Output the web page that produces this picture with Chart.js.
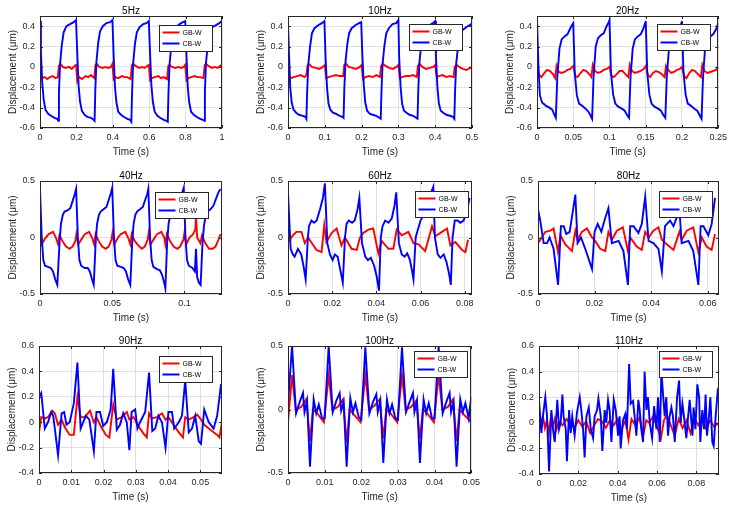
<!DOCTYPE html>
<html>
<head>
<meta charset="utf-8">
<title>Displacement of GB-W and CB-W</title>
<script src="https://cdn.jsdelivr.net/npm/chart.js@4.4.1/dist/chart.umd.min.js"></script>
<style>
  html, body { margin: 0; padding: 0; background: #fff; }
  #wrap { position: relative; width: 732px; height: 505px; overflow: hidden; background: #fff; }
  #wrap canvas { position: absolute; }
</style>
</head>
<body>
<div id="wrap"></div>
<script>
// ---- data ----
const titles = ['5Hz', '10Hz', '20Hz', '40Hz', '60Hz', '80Hz', '90Hz', '100Hz', '110Hz'];
const seriesNames = ['GB-W', 'CB-W'];

// 5Hz
const t05Gb = [0,0.006,0.012,0.025,0.04,0.055,0.07,0.085,0.098,0.104,0.112,0.125,0.14,0.16,0.175,0.19,0.198,
  0.205,0.215,0.23,0.25,0.265,0.28,0.298,0.305,0.312,0.325,0.345,0.36,0.375,0.39,0.398,
  0.405,0.415,0.43,0.45,0.465,0.48,0.498,0.505,0.512,0.525,0.545,0.56,0.575,0.59,0.598,
  0.605,0.615,0.63,0.65,0.665,0.68,0.698,0.705,0.712,0.725,0.745,0.76,0.775,0.79,0.798,
  0.805,0.815,0.83,0.85,0.865,0.88,0.898,0.905,0.912,0.925,0.945,0.96,0.975,0.99,1];
const d05Gb = [0,-0.08,-0.11,-0.1,-0.12,-0.1,-0.09,-0.11,-0.1,0.01,0.03,0,-0.01,0,-0.02,0.01,0.02,
  -0.14,-0.1,-0.12,-0.09,-0.1,-0.08,-0.11,0.02,0.03,0,-0.01,0,-0.01,0,0.03,
  -0.12,-0.1,-0.11,-0.09,-0.1,-0.1,-0.12,0.02,0.03,0.01,-0.01,0,-0.01,0.01,0.02,
  -0.13,-0.11,-0.1,-0.09,-0.11,-0.1,-0.12,0.01,0.02,0,-0.01,0,-0.01,0,0.02,
  -0.13,-0.11,-0.1,-0.09,-0.1,-0.1,-0.11,0.02,0.03,0.01,-0.01,0,-0.01,0.01,0.02];
const t05Cb = [0,0.005,0.012,0.02,0.03,0.045,0.06,0.08,0.095,0.1,0.104,0.11,0.12,0.13,0.145,0.165,0.185,0.198,
  0.205,0.212,0.22,0.23,0.245,0.26,0.28,0.295,0.3,0.304,0.31,0.32,0.33,0.345,0.365,0.385,0.398,
  0.405,0.412,0.42,0.43,0.445,0.46,0.48,0.495,0.502,0.506,0.512,0.522,0.532,0.547,0.567,0.585,0.598,
  0.605,0.612,0.62,0.63,0.645,0.66,0.68,0.695,0.702,0.706,0.712,0.722,0.732,0.747,0.767,0.785,0.798,
  0.805,0.812,0.82,0.83,0.845,0.86,0.88,0.895,0.902,0.906,0.912,0.922,0.932,0.947,0.967,0.985,1];
const d05Cb = [0.45,0.15,-0.15,-0.32,-0.42,-0.46,-0.48,-0.5,-0.51,-0.53,-0.25,0.02,0.22,0.34,0.4,0.42,0.44,0.46,
  0.12,-0.18,-0.34,-0.43,-0.47,-0.49,-0.5,-0.52,-0.53,-0.22,0.05,0.24,0.35,0.4,0.43,0.44,0.46,
  0.1,-0.2,-0.35,-0.44,-0.47,-0.49,-0.51,-0.52,-0.54,-0.24,0.04,0.23,0.34,0.39,0.42,0.43,0.45,
  0.12,-0.18,-0.34,-0.44,-0.48,-0.5,-0.52,-0.53,-0.54,-0.25,0.03,0.22,0.33,0.39,0.42,0.44,0.45,
  0.1,-0.2,-0.35,-0.44,-0.47,-0.49,-0.51,-0.52,-0.53,-0.24,0.04,0.22,0.34,0.39,0.41,0.43,0.45];

// 10Hz
const t10Gb = [0,0.004,0.008,0.015,0.025,0.035,0.045,0.05,0.053,0.057,0.065,0.075,0.085,0.095,0.1,
  0.104,0.11,0.12,0.13,0.14,0.15,0.153,0.158,0.165,0.175,0.185,0.195,0.2,
  0.204,0.21,0.22,0.23,0.24,0.25,0.253,0.258,0.265,0.275,0.285,0.295,0.3,
  0.304,0.31,0.32,0.33,0.34,0.35,0.353,0.358,0.365,0.375,0.385,0.395,0.4,
  0.404,0.41,0.42,0.43,0.44,0.45,0.453,0.458,0.465,0.475,0.485,0.495,0.5];
const d10Gb = [0.02,-0.09,-0.11,-0.1,-0.09,-0.08,-0.1,-0.08,0.01,0.03,0,-0.01,-0.02,0,0.02,
  -0.11,-0.1,-0.09,-0.08,-0.09,-0.09,0.02,0.03,0,-0.01,-0.02,0,0.02,
  -0.12,-0.1,-0.09,-0.1,-0.08,-0.1,0.01,0.03,0.01,-0.01,-0.02,0,0.02,
  -0.11,-0.1,-0.09,-0.09,-0.08,-0.1,0.01,0.03,0,-0.02,-0.01,0,0.02,
  -0.1,-0.09,-0.08,-0.1,-0.09,-0.1,0,0.02,0,-0.02,-0.03,-0.01,0];
const t10Cb = [0,0.003,0.006,0.01,0.015,0.022,0.03,0.04,0.047,0.05,0.052,0.055,0.06,0.065,0.072,0.082,0.092,0.099,
  0.102,0.106,0.11,0.115,0.122,0.13,0.14,0.148,0.151,0.153,0.156,0.161,0.166,0.173,0.183,0.193,0.199,
  0.202,0.206,0.21,0.215,0.222,0.23,0.24,0.248,0.252,0.254,0.257,0.262,0.267,0.274,0.284,0.294,0.3,
  0.302,0.306,0.31,0.315,0.322,0.33,0.34,0.348,0.352,0.354,0.357,0.362,0.367,0.374,0.384,0.394,0.4,
  0.402,0.406,0.41,0.415,0.422,0.43,0.44,0.448,0.452,0.454,0.457,0.462,0.467,0.474,0.484,0.494,0.5];
const d10Cb = [0.43,0.1,-0.2,-0.35,-0.42,-0.45,-0.47,-0.48,-0.49,-0.51,-0.25,0.02,0.2,0.33,0.38,0.41,0.43,0.45,
  0.1,-0.2,-0.36,-0.42,-0.45,-0.46,-0.48,-0.49,-0.5,-0.22,0.04,0.22,0.33,0.38,0.41,0.43,0.44,
  0.12,-0.18,-0.35,-0.43,-0.46,-0.47,-0.48,-0.5,-0.51,-0.24,0.03,0.21,0.33,0.38,0.42,0.43,0.46,
  0.1,-0.2,-0.36,-0.43,-0.45,-0.47,-0.48,-0.5,-0.51,-0.23,0.04,0.22,0.33,0.38,0.41,0.43,0.45,
  0.1,-0.2,-0.36,-0.43,-0.45,-0.47,-0.48,-0.49,-0.51,-0.24,0.03,0.2,0.3,0.36,0.39,0.41,0.43];

// 20Hz
const t20Gb = [0,0.003,0.006,0.01,0.014,0.018,0.022,0.025,0.027,0.03,0.034,0.038,0.042,0.046,0.05,
  0.053,0.056,0.06,0.064,0.068,0.072,0.075,0.077,0.08,0.084,0.088,0.092,0.096,0.1,
  0.103,0.106,0.11,0.114,0.118,0.122,0.126,0.128,0.131,0.135,0.139,0.143,0.147,0.15,
  0.153,0.156,0.16,0.164,0.168,0.172,0.176,0.178,0.181,0.185,0.189,0.193,0.197,0.2,
  0.203,0.206,0.21,0.214,0.218,0.222,0.226,0.228,0.231,0.235,0.239,0.243,0.247,0.25];
const d20Gb = [0.03,-0.08,-0.1,-0.06,-0.03,-0.04,-0.07,-0.11,0.01,-0.05,-0.06,-0.05,-0.03,-0.02,0.01,
  -0.09,-0.1,-0.06,-0.03,-0.04,-0.07,-0.1,0.02,-0.04,-0.06,-0.05,-0.03,-0.02,0,
  -0.09,-0.1,-0.07,-0.04,-0.04,-0.07,-0.1,0.02,-0.04,-0.06,-0.05,-0.04,-0.02,0.01,
  -0.08,-0.1,-0.06,-0.04,-0.05,-0.07,-0.1,0.01,-0.03,-0.06,-0.05,-0.03,-0.02,0,
  -0.09,-0.11,-0.06,-0.03,-0.04,-0.07,-0.1,0.02,-0.04,-0.06,-0.05,-0.04,-0.03,0];
const t20Cb = [0,0.002,0.004,0.007,0.012,0.017,0.021,0.024,0.026,0.028,0.031,0.034,0.038,0.042,0.046,0.049,0.05,
  0.052,0.055,0.058,0.062,0.067,0.071,0.074,0.076,0.078,0.081,0.084,0.088,0.092,0.096,0.099,0.1,
  0.102,0.105,0.108,0.112,0.117,0.121,0.124,0.127,0.129,0.132,0.135,0.139,0.143,0.147,0.149,0.15,
  0.152,0.155,0.158,0.162,0.167,0.171,0.174,0.177,0.179,0.182,0.185,0.189,0.193,0.197,0.199,0.2,
  0.202,0.205,0.208,0.212,0.217,0.221,0.224,0.227,0.229,0.232,0.235,0.239,0.243,0.247,0.25];
const d20Cb = [0.47,0,-0.28,-0.35,-0.38,-0.4,-0.42,-0.47,-0.5,-0.1,0.18,0.27,0.3,0.32,0.38,0.42,0.43,
  -0.05,-0.28,-0.36,-0.38,-0.41,-0.44,-0.48,-0.51,-0.1,0.2,0.28,0.31,0.33,0.4,0.44,0.46,
  -0.05,-0.27,-0.36,-0.39,-0.41,-0.43,-0.47,-0.5,-0.1,0.18,0.27,0.3,0.32,0.38,0.43,0.45,
  -0.05,-0.27,-0.36,-0.39,-0.41,-0.43,-0.47,-0.5,-0.1,0.18,0.27,0.3,0.33,0.38,0.43,0.45,
  -0.05,-0.27,-0.36,-0.38,-0.41,-0.43,-0.47,-0.51,-0.1,0.2,0.28,0.3,0.32,0.37,0.43];

// 40Hz
const t40Gb = [0,0.0012,0.0035,0.006,0.009,0.011,0.0125,0.0135,0.0155,0.018,0.0205,0.0225,0.0245,0.0252,
  0.0265,0.029,0.031,0.034,0.036,0.0375,0.0385,0.0405,0.043,0.0455,0.0475,0.0495,0.0502,
  0.0515,0.054,0.056,0.059,0.061,0.0625,0.0635,0.0655,0.068,0.0705,0.0725,0.0745,0.0752,
  0.0765,0.079,0.081,0.084,0.086,0.0868,0.0878,0.09,0.0925,0.095,0.097,0.0993,0.1,
  0.1012,0.1035,0.106,0.1075,0.108,0.1088,0.111,0.1122,0.114,0.117,0.1195,0.1215,0.1235,0.125];
const d40Gb = [0.03,-0.06,-0.01,0.03,0.05,0,-0.06,0.02,-0.03,-0.08,-0.1,-0.08,-0.03,0.03,
  -0.06,-0.01,0.03,0.05,0,-0.06,0.03,-0.03,-0.08,-0.1,-0.08,-0.02,0.04,
  -0.06,0,0.03,0.05,0,-0.06,0.03,-0.03,-0.07,-0.1,-0.08,-0.02,0.04,
  -0.06,-0.01,0.03,0.05,0,-0.06,0.03,-0.03,-0.08,-0.1,-0.08,-0.02,0.04,
  -0.06,0,0.03,0.07,0.18,0,-0.05,0.02,-0.04,-0.1,-0.1,-0.08,-0.02,0.03];
const t40Cb = [0,0.0012,0.0023,0.0035,0.0055,0.0075,0.009,0.0105,0.012,0.0135,0.0145,0.0158,0.017,0.019,0.021,0.0225,0.024,0.025,
  0.0262,0.0273,0.0285,0.031,0.033,0.0345,0.036,0.0372,0.0385,0.0395,0.0408,0.042,0.044,0.046,0.0475,0.049,0.05,
  0.0512,0.0523,0.0535,0.056,0.058,0.0595,0.061,0.0625,0.0638,0.0648,0.066,0.0672,0.0692,0.0712,0.0727,0.0742,0.075,
  0.0762,0.0773,0.0785,0.081,0.083,0.0845,0.086,0.0868,0.088,0.089,0.0902,0.0915,0.0935,0.0955,0.097,0.0985,0.0995,
  0.1007,0.1018,0.103,0.1055,0.1072,0.108,0.1088,0.11,0.1112,0.1125,0.1135,0.1148,0.116,0.118,0.12,0.1215,0.1235,0.125];
const d40Cb = [0.43,0,-0.2,-0.25,-0.26,-0.27,-0.3,-0.37,-0.42,-0.05,0.12,0.2,0.23,0.24,0.26,0.32,0.38,0.43,
  0,-0.2,-0.25,-0.27,-0.27,-0.3,-0.37,-0.42,-0.05,0.12,0.2,0.23,0.25,0.27,0.33,0.39,0.44,
  0,-0.2,-0.25,-0.26,-0.27,-0.3,-0.37,-0.42,-0.05,0.12,0.2,0.23,0.25,0.27,0.33,0.38,0.43,
  0,-0.2,-0.26,-0.28,-0.29,-0.33,-0.4,-0.45,-0.05,0.12,0.2,0.23,0.25,0.28,0.34,0.4,0.44,
  0,-0.2,-0.25,-0.27,-0.3,-0.1,-0.35,-0.4,-0.42,-0.05,0.1,0.2,0.23,0.25,0.28,0.33,0.4,0.43];

// 60Hz
const t60Gb = [0,0.0008,0.0023,0.0038,0.0061,0.0076,0.0091,0.0129,0.0152,0.0164,0.0174,0.0197,0.022,0.0242,0.0258,
  0.0288,0.0311,0.0326,0.0341,0.0364,0.0386,0.0409,0.0424,0.0455,0.0477,0.0492,0.0515,0.0545,0.0568,0.0591,
  0.0621,0.0652,0.0667,0.0697,0.072,0.0735,0.0758,0.0788,0.0803,0.0815];
const d60Gb = [0.04,-0.02,0.02,0.05,0.05,-0.05,0,-0.11,-0.13,0.11,-0.04,0.04,0.08,-0.07,0,
  -0.1,-0.11,0,0.04,0.07,0.08,-0.14,-0.03,-0.1,-0.1,0.07,0.02,0.05,-0.05,-0.06,
  -0.12,0.1,0.01,0.05,0.08,-0.07,-0.04,-0.11,-0.13,-0.02];
const t60Cb = [0,0.0012,0.0022,0.003,0.0045,0.006,0.007,0.008,0.009,0.0095,0.0106,0.0118,0.013,0.0145,0.0158,0.0167,
  0.0178,0.019,0.0202,0.0212,0.0225,0.0235,0.0248,0.0258,0.0265,0.0275,0.029,0.0302,0.0315,0.0323,
  0.0335,0.035,0.0362,0.0375,0.039,0.0402,0.0412,0.042,0.0428,0.044,0.0455,0.047,0.0482,0.049,
  0.0502,0.0515,0.0528,0.054,0.0552,0.0562,0.0568,0.0578,0.0585,0.06,0.0615,0.0628,0.0658,
  0.0665,0.0678,0.069,0.0705,0.0718,0.073,0.0737,0.0745,0.0755,0.0768,0.078,0.0795,0.0812,0.0822];
const d60Cb = [0.4,-0.1,-0.15,-0.17,-0.1,-0.15,-0.25,-0.37,0,0.1,0.15,0.13,0.15,0.25,0.35,0.48,
  -0.05,-0.15,-0.2,-0.15,-0.17,-0.27,-0.4,0,0.12,0.15,0.13,0.15,0.25,0.35,
  -0.05,-0.17,-0.2,-0.18,-0.25,-0.35,-0.47,0,0.1,0.15,0.13,0.17,0.28,0.4,
  -0.05,-0.15,-0.17,-0.14,-0.2,-0.3,-0.37,0,0.05,0.15,0.2,0.3,0.45,
  0,-0.15,-0.18,-0.15,-0.22,-0.33,-0.42,0,0.15,0.15,0.13,0.15,0.25,0.35];

// 80Hz
const t80Gb = [0,0.0008,0.0026,0.0044,0.0055,0.0071,0.0079,0.0096,0.012,0.0132,0.014,0.0155,0.0173,0.0191,0.0202,
  0.022,0.0238,0.0249,0.0261,0.0279,0.03,0.0318,0.0326,0.0349,0.0367,0.0379,0.0391,0.0408,0.0426,0.0438,
  0.0455,0.0479,0.05,0.0508,0.0526,0.0549,0.0567,0.0579,0.0596,0.0614,0.0626];
const d80Gb = [-0.05,-0.02,0.05,0.06,0.08,-0.13,0.02,-0.06,-0.12,0.06,-0.02,0.05,0.08,0,-0.03,
  -0.1,-0.12,0.05,-0.02,0.06,0.09,-0.12,0,-0.08,-0.11,0.05,0,0.06,0.09,-0.02,
  -0.06,-0.11,0.05,-0.02,0.06,0.09,-0.13,0,-0.08,-0.11,0.03];
const t80Cb = [0,0.0008,0.002,0.0032,0.0041,0.0055,0.0071,0.0081,0.0091,0.01,0.0112,0.0132,0.014,0.0152,0.0167,
  0.0191,0.02,0.0211,0.0224,0.0235,0.0249,0.0261,0.0285,0.0302,0.0318,0.0326,0.0338,0.0355,0.0367,0.0379,
  0.0391,0.0408,0.0426,0.0438,0.0449,0.0467,0.0479,0.0491,0.05,0.0508,0.0532,0.0549,0.0567,0.0575,0.0585,
  0.0602,0.0614,0.0626];
const d80Cb = [0.25,0.15,-0.05,-0.05,0,-0.1,-0.42,0.1,0.1,0.03,0.05,0.38,-0.05,0,-0.1,
  -0.28,0.05,0.12,0.05,0.15,0.26,-0.05,-0.03,-0.12,-0.42,0.1,0.1,0.04,0.12,0.36,
  -0.03,-0.05,-0.1,-0.3,0.1,0.15,0.1,0.18,0.25,-0.05,-0.03,-0.12,-0.42,0.1,0.1,
  0.02,0.12,0.35];

// 90Hz
const t90Gb = [0,0.0007,0.0018,0.0028,0.0041,0.0049,0.0059,0.007,0.008,0.0095,0.0108,0.0119,0.0129,0.0142,0.0158,
  0.017,0.0178,0.0189,0.0207,0.0218,0.023,0.0241,0.0256,0.0272,0.028,0.0293,0.0305,0.0324,0.0334,0.0341,
  0.035,0.0365,0.0381,0.0392,0.0401,0.0417,0.0433,0.0446,0.0453,0.0464,0.0479,0.049,0.0502,0.0512,0.0531,
  0.0552,0.0559,0.0567];
const d90Gb = [-0.08,0.04,0.03,0.04,0.09,0.07,-0.02,0.02,-0.04,-0.1,-0.1,0.2,0.04,0.04,0.09,
  0,0.04,-0.02,-0.1,-0.12,0.14,0.02,0.04,0.08,0.02,0.04,-0.02,-0.09,-0.12,0.07,
  0.03,0.04,0.07,0.02,0.04,-0.02,-0.08,-0.12,0.04,0.02,0.04,0.06,0.02,-0.02,-0.06,
  -0.1,-0.12,0];
const t90Cb = [0,0.0007,0.0018,0.0028,0.0038,0.0044,0.0049,0.0059,0.007,0.0078,0.0085,0.0095,0.0108,0.0119,0.0129,
  0.0137,0.0145,0.0156,0.017,0.0178,0.0189,0.0199,0.021,0.0222,0.023,0.0241,0.0251,0.0261,0.0272,0.028,
  0.0287,0.0298,0.0305,0.0313,0.0329,0.0341,0.0351,0.036,0.037,0.0381,0.0392,0.0401,0.0412,0.0419,0.0433,
  0.0443,0.0453,0.0464,0.0474,0.0484,0.0495,0.0502,0.0512,0.0526,0.0541,0.0552,0.0564];
const d90Cb = [0.2,0.23,-0.05,0,0.08,0.05,-0.05,-0.26,0.07,0.08,-0.02,0,0.15,0.47,-0.05,
  0,0.05,0.02,-0.23,0.08,0.08,-0.03,0,0.1,0.42,-0.06,-0.02,0.07,0,-0.22,
  0.08,0.1,-0.05,0,0.08,0.39,-0.07,-0.05,0.05,0,-0.2,0.08,0.08,-0.05,0,
  0.05,0.33,-0.08,-0.05,0.05,-0.15,-0.17,0.1,0,-0.05,0.05,0.3];

// 100Hz
const t100Gb = [0,0.0011,0.0021,0.0036,0.005,0.006,0.0068,0.008,0.0098,
  0.0111,0.0121,0.0136,0.015,0.016,0.0168,0.018,0.0198,
  0.0211,0.0221,0.0236,0.025,0.026,0.0268,0.028,0.0298,
  0.0311,0.0321,0.0336,0.035,0.036,0.0368,0.038,0.0398,
  0.0411,0.0421,0.0436,0.045,0.046,0.0468,0.048,0.05];
const d100Gb = [-0.1,0.27,0,0.02,0.08,-0.25,0,-0.03,-0.1,
  0.27,0,0.02,0.08,-0.26,0,-0.04,-0.1,
  0.27,0,0.03,0.08,-0.23,0,-0.03,-0.1,
  0.27,0,0.02,0.07,-0.23,0,-0.03,-0.1,
  0.27,0,0.02,0.08,-0.25,0,-0.04,-0.1];
const t100Cb = [0,0.0011,0.0022,0.0032,0.0041,0.0045,0.0052,0.006,0.007,0.0077,0.0084,0.0093,0.01,
  0.0111,0.0122,0.0132,0.0141,0.0145,0.0152,0.016,0.017,0.0177,0.0184,0.0193,0.02,
  0.0211,0.0222,0.0232,0.0241,0.0245,0.0252,0.026,0.027,0.0277,0.0284,0.0293,0.03,
  0.0311,0.0322,0.0332,0.0341,0.0345,0.0352,0.036,0.037,0.0377,0.0384,0.0393,0.04,
  0.0411,0.0422,0.0432,0.0441,0.0445,0.0452,0.046,0.047,0.0477,0.0484,0.0493,0.05];
const d100Cb = [0.05,0.5,-0.03,0.06,0.13,-0.02,0.07,-0.45,0.08,-0.03,0.04,-0.07,-0.07,
  0.5,-0.02,0.07,0.13,-0.01,0.06,-0.45,0.09,-0.02,0.05,-0.06,-0.08,
  0.49,-0.03,0.06,0.12,-0.02,0.07,-0.42,0.08,-0.03,0.04,-0.07,-0.08,
  0.49,-0.02,0.06,0.13,-0.02,0.07,-0.42,0.08,-0.03,0.05,-0.07,-0.07,
  0.5,-0.03,0.06,0.13,-0.02,0.06,-0.45,0.08,-0.02,0.05,-0.07,0.1];

// 110Hz
const t110Gb = [0,0.001,0.002,0.003,0.004,0.005,0.006,0.007,0.008,0.009,0.01,
  0.012,0.014,0.016,0.018,0.02,0.022,0.024,0.026,0.028,0.03,0.032,0.034,0.036,0.038,0.04,0.042,0.044,
  0.0455,0.047,0.049,0.051,0.053,0.0545,0.056,0.058,0.06,0.062,0.0635,0.065,0.067,0.069,0.071,0.073,
  0.075,0.077,0.079,0.081,0.083,0.085,0.087,0.089,0.0915];
const d110Gb = [-0.05,0,0.05,-0.04,0.02,-0.08,0.04,-0.03,0.03,-0.05,0.01,
  -0.02,0.03,-0.01,-0.04,0.02,-0.03,0.01,-0.08,-0.02,0.03,0.01,-0.04,0.02,-0.02,0.03,-0.05,0.02,
  -0.13,0.03,-0.02,0.04,-0.1,0.02,0,0.05,-0.03,-0.12,0.02,0.06,-0.02,-0.1,0.03,-0.04,
  0.02,-0.08,0.03,-0.02,0.04,-0.05,0.02,-0.03,0];
const t110Cb = [0,0.0012,0.002,0.0032,0.0041,0.0051,0.0063,0.0071,0.008,0.0093,
  0.0102,0.011,0.0119,0.0125,0.0136,0.0142,0.0153,0.0161,0.0169,0.0181,
  0.0193,0.0207,0.0215,0.0224,0.0232,0.0241,0.0253,0.0263,0.0275,0.0283,
  0.0295,0.0302,0.0314,0.0322,0.0334,0.0342,0.0351,0.0359,0.0368,0.038,
  0.039,0.0402,0.041,0.0415,0.0427,0.0439,0.0447,0.0458,0.0466,0.0478,
  0.0486,0.0495,0.0505,0.0512,0.052,0.0529,0.0537,0.0546,0.0554,0.0563,
  0.0575,0.0585,0.0597,0.0605,0.0614,0.0622,0.0639,0.0647,0.0656,0.0664,
  0.0673,0.0681,0.069,0.0702,0.0712,0.072,0.0729,0.0737,0.0749,0.0758,
  0.0766,0.078,0.0786,0.0795,0.0805,0.0814,0.082,0.083,0.0839,0.0847,
  0.0854,0.0864,0.0871,0.0881,0.0888,0.0898,0.0908,0.0915];
const d110Cb = [0.18,-0.08,0.05,0.2,0.05,-0.38,0.1,-0.05,-0.15,0.18,
  -0.05,0,0.22,0.05,-0.05,-0.3,0.1,-0.08,0.05,-0.1,
  0.08,0.2,0.1,-0.05,-0.27,0.05,0.12,-0.05,-0.12,0.05,
  0.1,0.19,0.05,-0.22,0.1,0,0.18,0.1,-0.15,0.18,
  0.1,-0.1,0.05,-0.2,0.02,0.07,-0.05,0.46,0.15,0.17,
  0.05,-0.1,0.18,0.1,-0.05,-0.15,0.4,0.1,0.2,0,
  -0.12,0.13,-0.05,0.2,-0.15,0.4,0.05,0.2,-0.1,0.05,
  0.12,0.05,-0.15,0.2,0.33,0,0.15,0.05,-0.12,0.05,
  0.18,-0.1,0.12,-0.05,0.3,0.2,-0.15,0.1,-0.05,0.22,
  -0.1,0.05,0.2,-0.15,-0.18,0.05,0.24,0.2];

// axis ranges and tick labels
const xMaxes = [1, 0.5, 0.25, 0.126, 0.0833, 0.064, 0.0567, 0.05, 0.0915];
const xTicks = [
  [0,0.2,0.4,0.6,0.8,1],
  [0,0.1,0.2,0.3,0.4,0.5],
  [0,0.05,0.1,0.15,0.2,0.25],
  [0,0.05,0.1],
  [0,0.02,0.04,0.06,0.08],
  [0,0.02,0.04,0.06],
  [0,0.01,0.02,0.03,0.04,0.05],
  [0,0.01,0.02,0.03,0.04,0.05],
  [0,0.02,0.04,0.06,0.08]
];
const yTicksA = [-0.6,-0.4,-0.2,0,0.2,0.4];
const yTicksB = [-0.5,0,0.5];
const yTicksC = [-0.4,-0.2,0,0.2,0.4,0.6];
const yTicks = [yTicksA, yTicksA, yTicksA, yTicksB, yTicksB, yTicksB, yTicksC, yTicksB, yTicksC];
const yMins = [-0.6,-0.6,-0.6,-0.5,-0.5,-0.5,-0.4,-0.5,-0.4];
const yMaxs = [0.5,0.5,0.5,0.5,0.5,0.5,0.6,0.5,0.6];

const gbTimes = [t05Gb, t10Gb, t20Gb, t40Gb, t60Gb, t80Gb, t90Gb, t100Gb, t110Gb];
const gbVals  = [d05Gb, d10Gb, d20Gb, d40Gb, d60Gb, d80Gb, d90Gb, d100Gb, d110Gb];
const cbTimes = [t05Cb, t10Cb, t20Cb, t40Cb, t60Cb, t80Cb, t90Cb, t100Cb, t110Cb];
const cbVals  = [d05Cb, d10Cb, d20Cb, d40Cb, d60Cb, d80Cb, d90Cb, d100Cb, d110Cb];

// plot boxes on the page (left, top, right, bottom) and legend offsets
const cells = [
  {l:40,  t:16,  r:222, b:128, lr:10, lt:9},
  {l:288, t:16,  r:472, b:128, lr:10, lt:8},
  {l:537, t:16,  r:719, b:128, lr:8,  lt:8},
  {l:40,  t:181, r:222, b:294, lr:14, lt:11},
  {l:288, t:181, r:472, b:294, lr:4,  lt:10},
  {l:538, t:181, r:719, b:294, lr:7,  lt:10},
  {l:39,  t:346, r:222, b:473, lr:10, lt:10},
  {l:288, t:346, r:472, b:473, lr:4,  lt:5},
  {l:539, t:346, r:719, b:474, lr:7,  lt:5}
];

Chart.defaults.font.family = "'Liberation Sans', Arial, sans-serif";
Chart.defaults.color = '#262626';

const YW = 40, TOPH = 16, XH = 32, PADR = 12;
const axisCol = '#262626';
const gridCol = '#e0e0e0';

function toPoints(ts, vs) {
  return ts.map((t, i) => ({x: t, y: vs[i]}));
}

function fmt(v) {
  return String(+(+v).toFixed(4));
}

// box round the plot, inner tick marks and the boxed legend (MATLAB look)
const matlabBox = {
  id: 'matlabBox',
  afterDatasetsDraw(chart, args, opts) {
    const ctx = chart.ctx;
    const a = chart.chartArea;
    const sx = chart.scales.x, sy = chart.scales.y;
    ctx.save();
    ctx.strokeStyle = axisCol;
    ctx.lineWidth = 1;
    ctx.beginPath();
    sx.ticks.forEach(tk => {
      const px = Math.round(sx.getPixelForValue(tk.value)) + 0.5;
      ctx.moveTo(px, a.bottom); ctx.lineTo(px, a.bottom - 3);
      ctx.moveTo(px, a.top); ctx.lineTo(px, a.top + 3);
    });
    sy.ticks.forEach(tk => {
      const py = Math.round(sy.getPixelForValue(tk.value)) + 0.5;
      ctx.moveTo(a.left, py); ctx.lineTo(a.left + 3, py);
      ctx.moveTo(a.right, py); ctx.lineTo(a.right - 3, py);
    });
    ctx.stroke();
    ctx.strokeRect(Math.round(a.left) + 0.5, Math.round(a.top) + 0.5,
                   Math.round(a.right - a.left) - 1, Math.round(a.bottom - a.top) - 1);

    // legend
    const w = 53, h = 26;
    const x0 = Math.round(a.right - opts.lr - w) + 0.5;
    const y0 = Math.round(a.top + opts.lt) + 0.5;
    ctx.fillStyle = '#ffffff';
    ctx.fillRect(x0, y0, w, h);
    ctx.strokeStyle = axisCol;
    ctx.strokeRect(x0, y0, w, h);
    ctx.font = "7px 'Liberation Sans', Arial, sans-serif";
    ctx.textBaseline = 'middle';
    ctx.textAlign = 'left';
    chart.data.datasets.forEach((ds, i) => {
      const yy = y0 + 7 + i * 11;
      ctx.strokeStyle = ds.borderColor;
      ctx.lineWidth = 2;
      ctx.beginPath();
      ctx.moveTo(x0 + 3, yy); ctx.lineTo(x0 + 20, yy);
      ctx.stroke();
      ctx.fillStyle = '#000';
      ctx.fillText(ds.label, x0 + 23, yy + 0.5);
    });
    ctx.restore();
  }
};

const wrap = document.getElementById('wrap');

cells.forEach((c, i) => {
  const cv = document.createElement('canvas');
  const cw = c.r - c.l + YW + PADR;
  const ch = c.b - c.t + TOPH + XH;
  cv.width = cw; cv.height = ch;
  cv.style.left = (c.l - YW) + 'px';
  cv.style.top = (c.t - TOPH) + 'px';
  cv.style.width = cw + 'px';
  cv.style.height = ch + 'px';
  wrap.appendChild(cv);

  new Chart(cv.getContext('2d'), {
    type: 'line',
    data: {
      datasets: [
        {
          label: seriesNames[0],
          data: toPoints(gbTimes[i], gbVals[i]),
          borderColor: '#ff0000',
          borderWidth: 1.9,
          pointRadius: 0,
          tension: 0,
          order: 2
        },
        {
          label: seriesNames[1],
          data: toPoints(cbTimes[i], cbVals[i]),
          borderColor: '#0000ff',
          borderWidth: 1.9,
          pointRadius: 0,
          tension: 0,
          order: 1
        }
      ]
    },
    options: {
      responsive: false,
      animation: false,
      events: [],
      layout: { padding: { left: 0, right: PADR, top: 0, bottom: 0 } },
      scales: {
        x: {
          type: 'linear',
          min: 0,
          max: xMaxes[i],
          afterBuildTicks: s => { s.ticks = xTicks[i].map(v => ({value: v})); },
          afterFit: s => { s.height = XH; },
          ticks: { font: { size: 9 }, padding: 4, maxRotation: 0, autoSkip: false, callback: fmt, color: axisCol },
          grid: { color: gridCol, drawTicks: false },
          border: { display: false },
          title: { display: true, text: 'Time (s)', font: { size: 10 }, padding: { top: 0, bottom: 2 }, color: axisCol }
        },
        y: {
          type: 'linear',
          min: yMins[i],
          max: yMaxs[i],
          afterBuildTicks: s => { s.ticks = yTicks[i].map(v => ({value: v})); },
          afterFit: s => { s.width = YW; },
          ticks: { font: { size: 9 }, padding: 5, autoSkip: false, callback: fmt, color: axisCol },
          grid: { color: gridCol, drawTicks: false },
          border: { display: false },
          title: { display: true, text: 'Displacement (μm)', font: { size: 10 }, padding: { top: 7, bottom: 0 }, color: axisCol }
        }
      },
      plugins: {
        legend: { display: false },
        tooltip: { enabled: false },
        title: {
          display: true,
          text: titles[i],
          fullSize: false,
          color: '#000',
          font: { size: 10, weight: 'normal', lineHeight: 1 },
          padding: { top: 6, bottom: 0 }
        },
        matlabBox: { lr: c.lr, lt: c.lt }
      }
    },
    plugins: [matlabBox]
  });
});
</script>
</body>
</html>
